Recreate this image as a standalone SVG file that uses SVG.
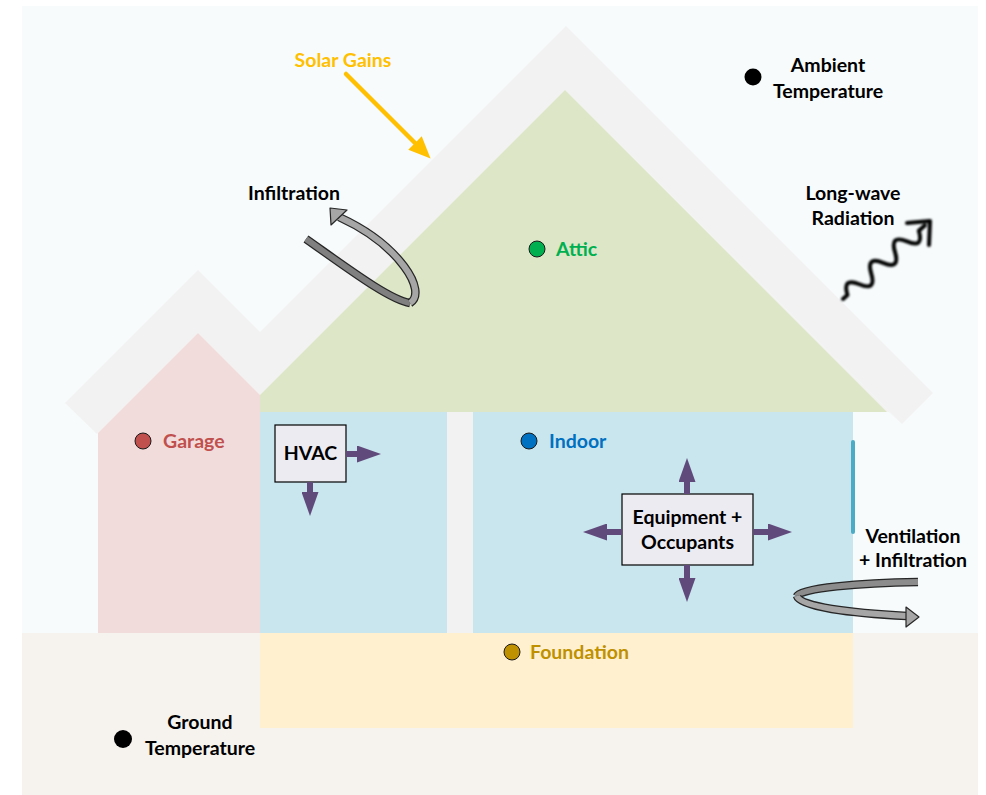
<svg xmlns="http://www.w3.org/2000/svg" width="986" height="795" viewBox="0 0 986 795">
<defs>
<style>
text{font-family:Lato,"Liberation Sans",Arial,sans-serif;font-weight:bold;font-size:19.5px;fill:#000}
.c{text-anchor:middle}
.dot{stroke:#1a1a1a;stroke-width:1}
.pline{stroke:#604a7b;stroke-width:6;fill:none}
.box{fill:#ecebf2;stroke:#000;stroke-width:1.2}
.ol{fill:none;stroke:#262626;stroke-width:8.5}
</style>
<marker id="ph" markerUnits="userSpaceOnUse" markerWidth="24" markerHeight="17" refX="0" refY="8.5" orient="auto">
<path d="M0,0 L24,8.5 L0,17 Z" fill="#604a7b"/>
</marker>
<marker id="yh" markerUnits="userSpaceOnUse" markerWidth="22" markerHeight="19" refX="0" refY="9.5" orient="auto">
<path d="M0,0 L22,9.5 L0,19 Z" fill="#ffc000"/>
</marker>
<filter id="blur" x="-10%" y="-10%" width="120%" height="120%"><feGaussianBlur stdDeviation="0.8"/></filter>
</defs>

<g id="background">
<rect x="22" y="6" width="956" height="627" fill="#f7fbfc"/>
<rect x="22" y="633" width="956" height="162" fill="#f6f3ef"/>
</g>

<g id="roof">
<polygon points="65,403 198,270 260,332 566,26 933,393 902,424 565,90 260,395 198,333 97,434" fill="#f2f2f2"/>
<polygon points="889,412 902,424 565,90 260,395 260,412" fill="#f2f2f2"/>
</g>

<g id="garage">
<polygon points="98,633 98,433 198,333 260,395 260,633" fill="#f2dcdb"/>
<circle class="dot" cx="143" cy="441" r="8" fill="#c0504d"/>
<text x="163" y="448" style="fill:#c0504d">Garage</text>
</g>

<g id="attic">
<polygon points="565,90 887,412 260,412 260,395" fill="#dde7c8"/>
<circle class="dot" cx="537" cy="249" r="8" fill="#00b050"/>
<text x="556" y="256" style="fill:#00b050">Attic</text>
</g>

<g id="indoor">
<rect x="260" y="412" width="593" height="221" fill="#c9e5ee"/>
<rect x="447" y="412" width="26" height="221" fill="#f2f2f2"/>
<line x1="853" y1="442" x2="853" y2="532" stroke="#4bacc6" stroke-width="4" stroke-linecap="round"/>
<circle class="dot" cx="529" cy="441" r="8" fill="#0070c0"/>
<text x="549" y="448" style="fill:#0070c0">Indoor</text>
</g>

<g id="foundation">
<rect x="260" y="633" width="593" height="95" fill="#fff0cf"/>
<circle class="dot" cx="512" cy="652" r="8" fill="#bf9000"/>
<text x="530" y="659" style="fill:#bf9000">Foundation</text>
</g>

<g id="hvac">
<rect class="box" x="275" y="425" width="71" height="57"/>
<text class="c" x="310.5" y="460">HVAC</text>
</g>

<g id="equipment">
<rect class="box" x="622" y="494" width="131" height="71"/>
<text class="c" x="687.5" y="524">Equipment +</text>
<text class="c" x="687.5" y="549">Occupants</text>
</g>

<g id="ambient">
<circle cx="753" cy="77" r="8.5" fill="#000"/>
<text class="c" x="828" y="72">Ambient</text>
<text class="c" x="828" y="98">Temperature</text>
</g>

<g id="ground">
<circle cx="123" cy="739" r="9" fill="#000"/>
<text class="c" x="200" y="729">Ground</text>
<text class="c" x="200" y="755">Temperature</text>
</g>

<g id="labels">
<text class="c" x="343" y="67" style="fill:#ffc000">Solar Gains</text>
<text class="c" x="294" y="200">Infiltration</text>
<text class="c" x="853" y="200">Long-wave</text>
<text class="c" x="853" y="225">Radiation</text>
<text class="c" x="913" y="543">Ventilation</text>
<text class="c" x="913" y="567">+ Infiltration</text>
</g>

<g id="connectors">
<line x1="346" y1="74" x2="415" y2="143" stroke="#ffc000" stroke-width="4.5" stroke-linecap="round" marker-end="url(#yh)"/>
<line class="pline" x1="346" y1="454" x2="357" y2="454" marker-end="url(#ph)"/>
<line class="pline" x1="310" y1="482" x2="310" y2="492" marker-end="url(#ph)"/>
<line class="pline" x1="687" y1="494" x2="687" y2="482" marker-end="url(#ph)"/>
<line class="pline" x1="687" y1="565" x2="687" y2="578" marker-end="url(#ph)"/>
<line class="pline" x1="622" y1="532" x2="607" y2="532" marker-end="url(#ph)"/>
<line class="pline" x1="753" y1="532" x2="768" y2="532" marker-end="url(#ph)"/>

<g id="infiltration-arrow">
<path class="ol" d="M306,239 C350,270 390,300 410,303"/>
<path d="M306,239 C350,270 390,300 410,303" fill="none" stroke="#808080" stroke-width="6"/>
<path class="ol" d="M410,303 C428,292 400,245 339,217"/>
<path d="M410,303 C428,292 400,245 339,217" fill="none" stroke="#a6a6a6" stroke-width="6"/>
<polygon points="330,208 331,225 347,210" fill="#a6a6a6" stroke="#262626" stroke-width="1.2" stroke-linejoin="round"/>
</g>

<g id="ventilation-arrow">
<path class="ol" d="M918,582 C860,583 800,588 797,596"/>
<path d="M918,582 C860,583 800,588 797,596" fill="none" stroke="#8c8c8c" stroke-width="6"/>
<path class="ol" d="M797,596 C800,607 850,613 907,616"/>
<path d="M797,596 C800,607 850,613 907,616" fill="none" stroke="#a6a6a6" stroke-width="6"/>
<polygon points="906,607 919,617 906,627" fill="#a6a6a6" stroke="#262626" stroke-width="1.2" stroke-linejoin="round"/>
</g>

<g id="longwave-arrow" filter="url(#blur)" fill="none" stroke="#000" stroke-width="4" stroke-linecap="round" stroke-linejoin="round">
<path transform="translate(843,299) rotate(-42)" d="M0,0 l6,0 q8,-17 16,0 t16,0 t16,0 t16,0 t16,0 t16,0 l8,0"/>
<path d="M907,223 L930,221 L929,245"/>
</g>
</g>
</svg>
